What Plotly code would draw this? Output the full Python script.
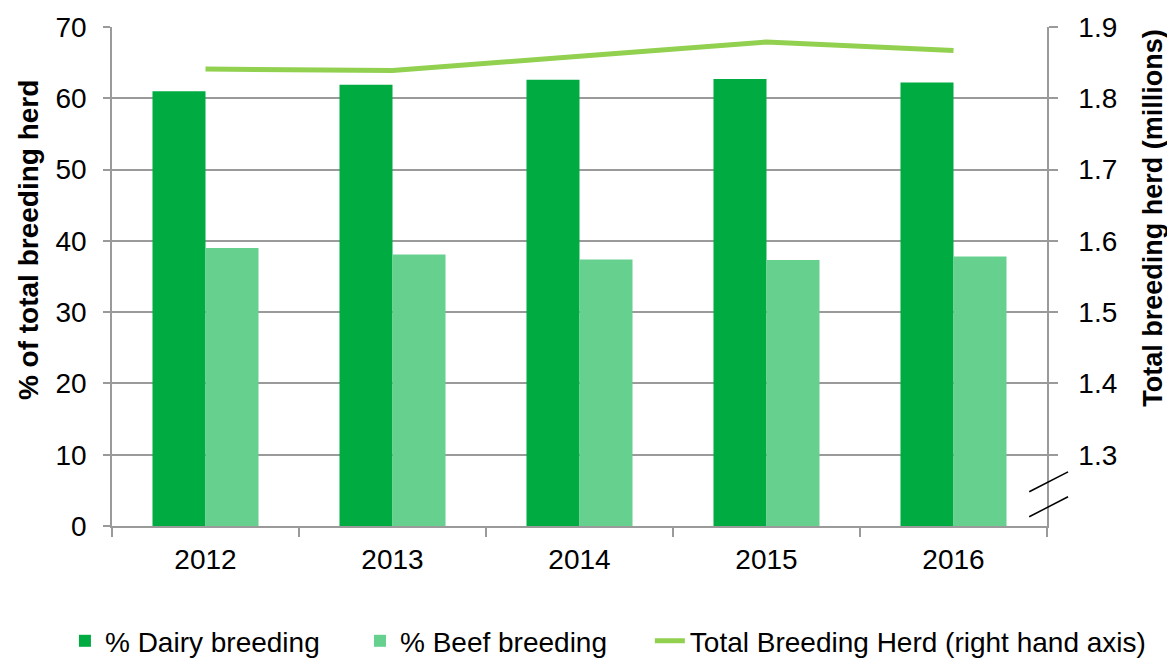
import plotly.graph_objects as go

years = ["2012", "2013", "2014", "2015", "2016"]
dairy_pct = [61.0, 61.9, 62.6, 62.7, 62.2]
beef_pct = [39.0, 38.1, 37.4, 37.3, 37.8]
total_herd = [1.841, 1.839, 1.859, 1.879, 1.867]

left_ticks = [0, 10, 20, 30, 40, 50, 60, 70]
right_ticks = [1.3, 1.4, 1.5, 1.6, 1.7, 1.8, 1.9]

FONT = "Liberation Sans, Arial, sans-serif"
GRID = "#9a9a9a"
FS = 28

fig = go.Figure()
fig.add_trace(go.Bar(x=years, y=dairy_pct, name="% Dairy breeding", legend="legend",
                     marker=dict(color="#00AC41", line=dict(width=0))))
fig.add_trace(go.Bar(x=years, y=beef_pct, name="% Beef breeding", legend="legend2",
                     marker=dict(color="#66D08F", line=dict(width=0))))
fig.add_trace(go.Scatter(x=years, y=total_herd, yaxis="y2", mode="lines",
                         name="Total Breeding Herd (right hand axis)", legend="legend3",
                         line=dict(color="#92D050", width=5)))

# axis break marks on the right-hand axis
for y0, y1 in [(4.8, 7.6), (1.3, 4.1)]:
    fig.add_shape(type="line", xref="paper", yref="y",
                  x0=0.981, x1=1.0225, y0=y0, y1=y1,
                  line=dict(color="black", width=1.5))

# axis titles (placed as in the original, not centred on the plot)
fig.add_annotation(text="<b>% of total breeding herd</b>", textangle=-90,
                   xref="paper", yref="paper", x=-0.0898, y=0.573,
                   xanchor="center", yanchor="middle",
                   showarrow=False, font=dict(size=FS))
fig.add_annotation(text="<b>Total breeding herd (millions)</b>", textangle=-90,
                   xref="paper", yref="paper", x=1.1125, y=0.618,
                   xanchor="center", yanchor="middle",
                   showarrow=False, font=dict(size=27))

leg = dict(orientation="h", xref="container", yref="container", xanchor="left",
           y=0.026, yanchor="middle", font=dict(size=FS), bgcolor="rgba(0,0,0,0)")

fig.update_layout(
    width=1167, height=650,
    margin=dict(l=104, r=128, t=19, b=132),
    plot_bgcolor="white", paper_bgcolor="white",
    font=dict(family=FONT, size=FS, color="black"),
    showlegend=True,
    barmode="group", bargap=0.433, bargroupgap=0,
    xaxis=dict(type="category", showline=True, linecolor=GRID, linewidth=1.5,
               ticks="outside", tickson="boundaries", ticklen=9, tickcolor=GRID,
               tickwidth=1.5, tickfont=dict(size=FS), showgrid=False, automargin=False,
               ticklabelstandoff=8),
    yaxis=dict(range=[0, 70], tickvals=left_ticks, showline=True, linecolor=GRID,
               linewidth=1.5, ticks="outside", ticklen=7, tickcolor=GRID, tickwidth=1.5,
               showgrid=True, gridcolor=GRID, gridwidth=1.5, zeroline=False,
               tickfont=dict(size=FS), automargin=False, ticklabelstandoff=11),
    yaxis2=dict(overlaying="y", side="right", range=[1.2, 1.9], tickvals=right_ticks,
                tickformat=".1f", showline=True, linecolor=GRID, linewidth=1.5,
                ticks="outside", ticklen=9, tickcolor=GRID, tickwidth=1.5,
                showgrid=False, zeroline=False, tickfont=dict(size=FS), automargin=False,
                ticklabelstandoff=15),
    legend=dict(leg, x=0.0488),
    legend2=dict(leg, x=0.3016),
    legend3=dict(leg, x=0.550),
)

fig.write_html("out.html")
